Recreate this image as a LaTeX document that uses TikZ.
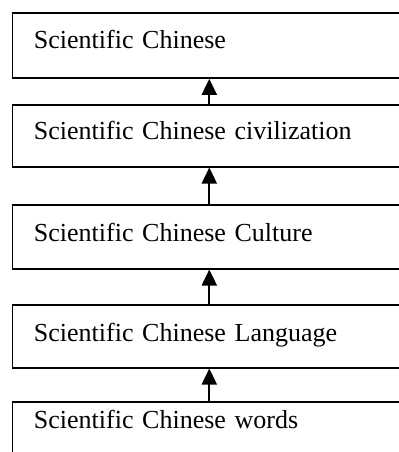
\documentclass[tikz,border=0pt]{standalone}
\usepackage{fontspec}
\setmainfont{Liberation Serif}
\usetikzlibrary{arrows.meta}

\tikzset{
	level/.style={draw, line width=0.75pt, rectangle, anchor=north, inner xsep=10.8pt, inner ysep=0pt,
		text width=175.4pt, align=left, font=\fontsize{13}{15}\selectfont},
	rise/.style={line width=1pt, -{Triangle[length=8pt,width=7.5pt]}}
}

\begin{document}
\begin{tikzpicture}[x=0.5pt, y=-0.5pt]
		%%%%% START %%%%%
		\clip (0, 0) rectangle (399, 452);
		
		\node[level, text height=17.9pt, text depth=14.6pt] (science) at (209.3, 12.3) {Scientific Chinese};
		\node[level, text height=17.5pt, text depth=13.5pt] (civil) at (209.3, 104) {Scientific Chinese civilization};
		\node[level, text height=18.5pt, text depth=13.5pt] (culture) at (209.3, 204) {Scientific Chinese Culture};
		\node[level, text height=18.5pt, text depth=13pt] (language) at (209.3, 304) {Scientific Chinese Language};
		\node[level, text height=13.5pt, text depth=30pt] (words) at (209.3, 401) {Scientific Chinese words};
		
		\draw[rise] (civil.north) -- (science.south);
		\draw[rise] (culture.north) -- (civil.south);
		\draw[rise] (language.north) -- (culture.south);
		\draw[rise] (words.north) -- (language.south);
		%%%%% END %%%%%
	\end{tikzpicture}
\end{document}
